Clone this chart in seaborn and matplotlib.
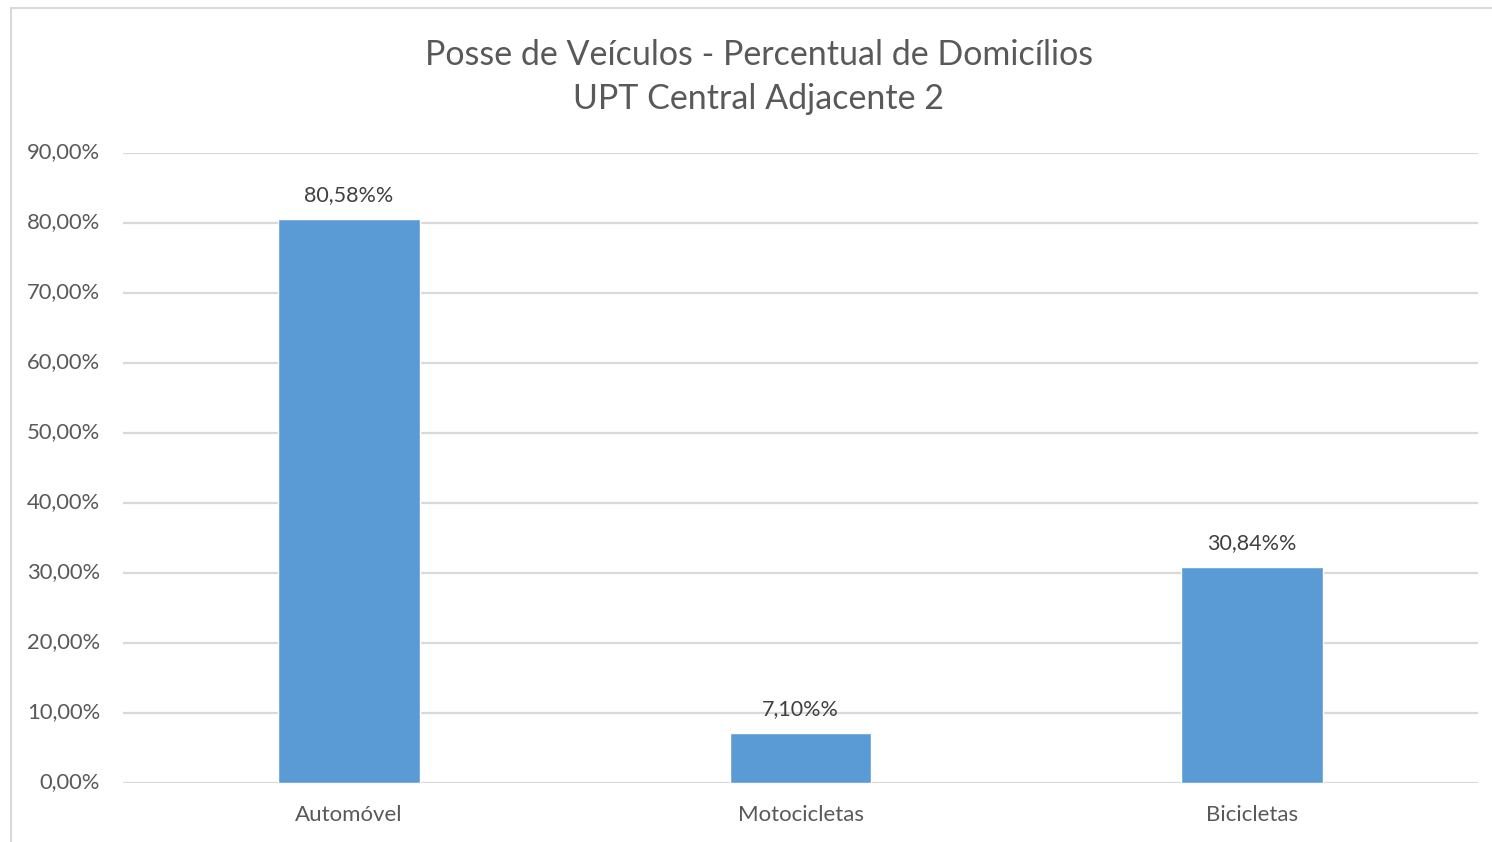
import matplotlib
matplotlib.use("Agg")
import matplotlib.pyplot as plt
from matplotlib.lines import Line2D
from matplotlib.ticker import FuncFormatter
from matplotlib.transforms import ScaledTranslation
import seaborn as sns
import pandas as pd

# Vehicle ownership share of households
categories = ["Automóvel", "Motocicletas", "Bicicletas"]
percent_values = [80.58, 7.10, 30.84]
value_labels = ["80,58%%", "7,10%%", "30,84%%"]
y_ticks = [0, 10, 20, 30, 40, 50, 60, 70, 80, 90]

title_lines = ["Posse de Veículos - Percentual de Domicílios", "UPT Central Adjacente 2"]

sns.set_theme(style="white")
plt.rcParams["font.family"] = ["Lato", "DejaVu Sans"]

BAR = "#5B9BD5"
GRID = "#D9D9D9"
TEXT = "#595959"
LABEL = "#404040"

df = pd.DataFrame({"categoria": categories, "percentual": percent_values})

fig = plt.figure(figsize=(14.92, 8.42), dpi=100)
ax = fig.add_axes([123 / 1492, 1 - 783 / 842, (1478 - 123) / 1492, (783 - 153) / 842])

sns.barplot(data=df, x="categoria", y="percentual", color=BAR, width=0.314,
            saturation=1, ax=ax, zorder=3)

ax.set_ylim(0, 90)
ax.set_xlim(-0.5, 2.5)
ax.set_yticks(y_ticks)
ax.yaxis.set_major_formatter(FuncFormatter(lambda v, p: f"{v:.2f}%".replace(".", ",")))
ax.grid(axis="y", color=GRID, linewidth=1.6, zorder=0)
ax.grid(axis="x", visible=False)
for s in ax.spines.values():
    s.set_visible(False)
ax.set_xlabel("")
ax.set_ylabel("")
ax.tick_params(axis="y", length=0, pad=16.5, labelsize=15.8, labelcolor=TEXT)
ax.tick_params(axis="x", length=0, pad=16, labelsize=16, labelcolor=TEXT)
# nudge y tick labels up slightly so they sit centred on the gridlines
lift = ScaledTranslation(0, 2.5 / 100, fig.dpi_scale_trans)
for lbl in ax.get_yticklabels():
    lbl.set_horizontalalignment("right")
    lbl.set_transform(lbl.get_transform() + lift)

for container in ax.containers:
    ax.bar_label(container, labels=value_labels, padding=10, fontsize=15.5, color=LABEL)

fig.text(0.5 + 13 / 1492, 1 - 55 / 842, title_lines[0], ha="center", va="center",
         fontsize=24.5, color=TEXT)
fig.text(0.5 + 13 / 1492, 1 - 99 / 842, title_lines[1], ha="center", va="center",
         fontsize=24.5, color=TEXT)

# chart frame (left and top edges)
fig.add_artist(Line2D([11 / 1492, 11 / 1492], [0, 1 - 8 / 842], transform=fig.transFigure,
                      color=GRID, linewidth=1.5))
fig.add_artist(Line2D([11 / 1492, 1], [1 - 8 / 842, 1 - 8 / 842], transform=fig.transFigure,
                      color=GRID, linewidth=1.5))

fig.savefig("out.png", dpi=100, facecolor="white")
